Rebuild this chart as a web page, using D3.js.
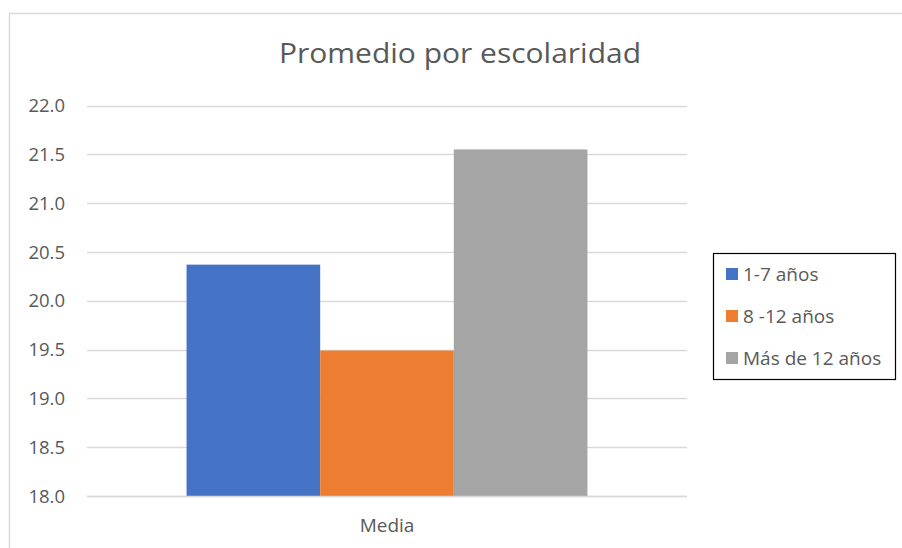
<!DOCTYPE html>
<html><head><meta charset="utf-8">
<script src="https://cdn.jsdelivr.net/npm/d3@7"></script>
<style>body{margin:0;background:#fff}svg{display:block}text{font-family:"Open Sans","Noto Sans",sans-serif;fill:#595959}</style>
</head><body>
<svg id="c" width="902" height="548"></svg>
<script>
const categories = ["Media"];
const seriesNames = ["1-7 años", "8 -12 años", "Más de 12 años"];
const seriesValues = [20.37, 19.49, 21.55];
const colors = ["#4472C4", "#ED7D31", "#A5A5A5"];
const yTicks = [18.0, 18.5, 19.0, 19.5, 20.0, 20.5, 21.0, 21.5, 22.0];
const title = "Promedio por escolaridad";

const svg = d3.select("#c");
// outer chart border
svg.append("path").attr("d","M9.5,548 V13.5 H902").attr("fill","none").attr("stroke","#D9D9D9").attr("stroke-width",1.5);

const x0 = 87, x1 = 687, yTop = 105.5, yBot = 496;
const y = d3.scaleLinear().domain([18, 22]).range([yBot, yTop]);
const xCat = d3.scaleBand().domain(categories).range([x0, x1]).paddingInner(0).paddingOuter(0);
const xSer = d3.scaleBand().domain(seriesNames).range([0, xCat.bandwidth()]).paddingOuter(0.745).paddingInner(0);

// gridlines
svg.append("g").selectAll("line").data(yTicks).join("line")
  .attr("x1", x0).attr("x2", x1)
  .attr("y1", d => Math.round(y(d)) + 0.5).attr("y2", d => Math.round(y(d)) + 0.5)
  .attr("stroke", "#D9D9D9").attr("stroke-width", 1.3);

// y tick labels
svg.append("g").selectAll("text").data(yTicks).join("text")
  .attr("x", 65).attr("y", d => y(d)).attr("dy", "0.36em")
  .attr("text-anchor", "end").attr("font-size", 18.5)
  .text(d => d3.format(".1f")(d));

// bars
const data = seriesNames.map((s, i) => ({s, v: seriesValues[i], c: colors[i]}));
svg.append("g").selectAll("rect").data(data).join("rect")
  .attr("x", d => xCat("Media") + xSer(d.s))
  .attr("width", xSer.bandwidth())
  .attr("y", d => y(d.v))
  .attr("height", d => y(18) - y(d.v))
  .attr("fill", d => d.c);

// axis line
svg.append("line").attr("x1", x0).attr("x2", x1).attr("y1", yBot + 0.5).attr("y2", yBot + 0.5)
  .attr("stroke", "#D9D9D9").attr("stroke-width", 1.5);

// category label
svg.append("text").attr("x", xCat("Media") + xCat.bandwidth()/2).attr("y", 532)
  .attr("text-anchor", "middle").attr("font-size", 19).text(categories[0]);

// title
svg.append("text").attr("x", 460).attr("y", 63).attr("text-anchor", "middle")
  .attr("font-size", 27).attr("textLength", 362).attr("lengthAdjust", "spacingAndGlyphs").text(title);

// legend
const lg = svg.append("g");
lg.append("rect").attr("x", 713.5).attr("y", 253.5).attr("width", 182).attr("height", 126)
  .attr("fill", "#fff").attr("stroke", "#000").attr("stroke-width", 1.2);
const ly = [274, 316, 358];
data.forEach((d, i) => {
  lg.append("rect").attr("x", 726).attr("y", ly[i] - 6).attr("width", 12).attr("height", 12).attr("fill", d.c);
  lg.append("text").attr("x", 743).attr("y", ly[i]).attr("dy", "0.36em").attr("font-size", 19).text(d.s);
});
</script>
</body></html>
